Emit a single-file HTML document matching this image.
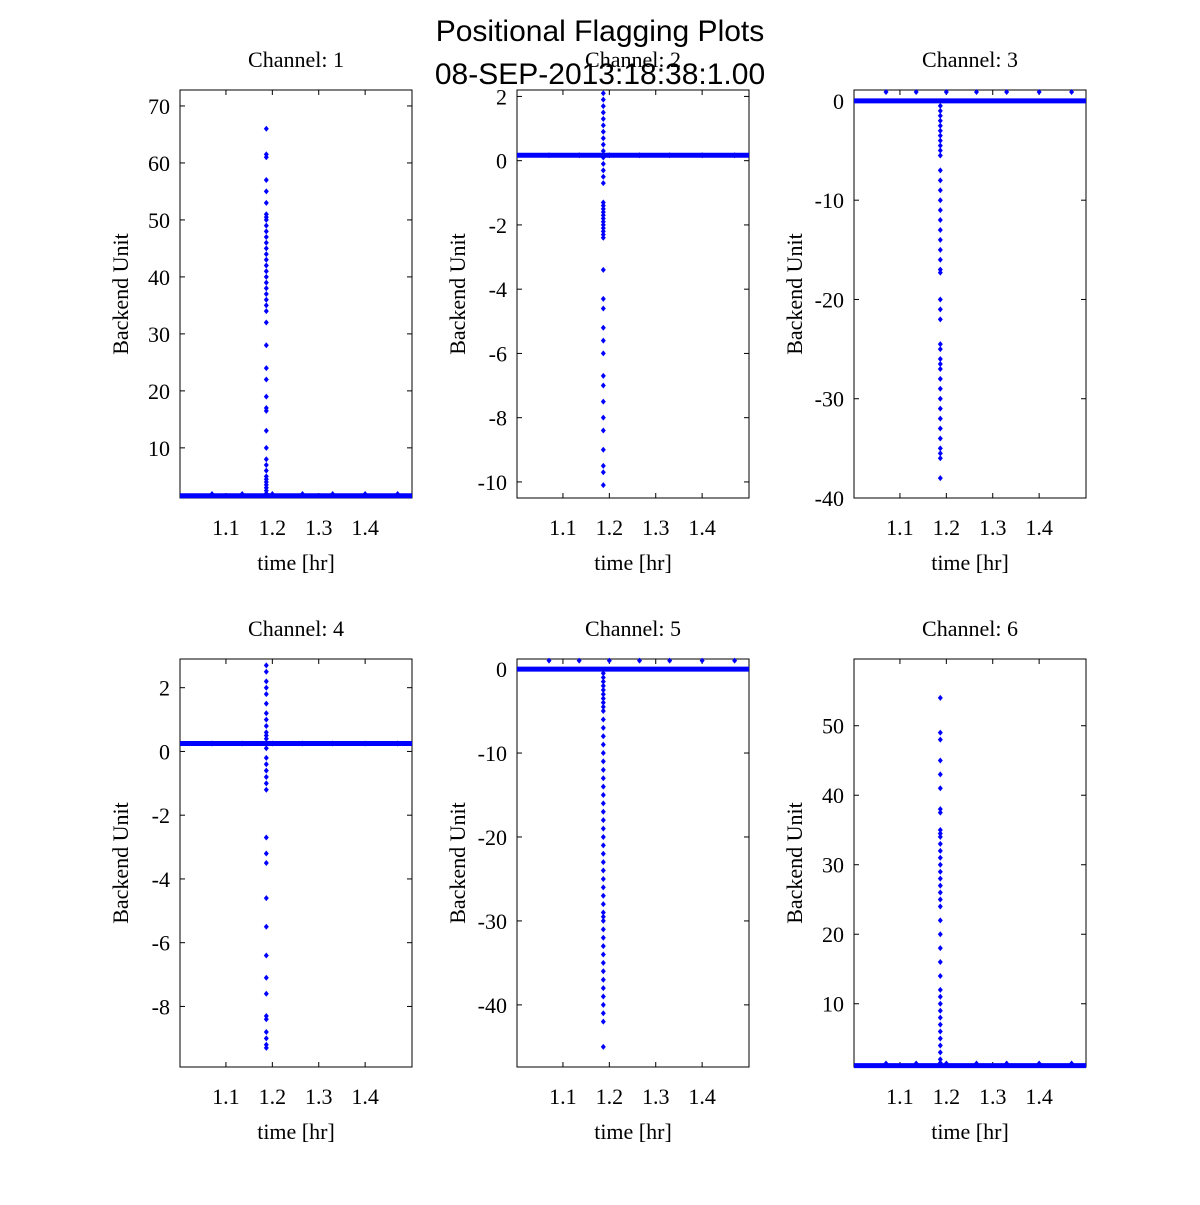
<!DOCTYPE html>
<html><head><meta charset="utf-8"><style>
body{margin:0;background:#fff;width:1200px;height:1200px;overflow:hidden}
svg text{font-family:"Liberation Serif",serif;font-size:22px;fill:#000}
</style></head><body>
<svg id="fig" width="1200" height="1200" xmlns="http://www.w3.org/2000/svg">
<text x="600" y="41" text-anchor="middle" style="font-family:'Liberation Sans',sans-serif;font-size:30px">Positional Flagging Plots</text>
<text x="600" y="84" text-anchor="middle" style="font-family:'Liberation Sans',sans-serif;font-size:30px">08-SEP-2013:18:38:1.00</text>
</svg>
<script>
const xTicks=[1.1,1.2,1.3,1.4];
const xRange=[1.001,1.501];
const spikeTime=1.187;
const markTimes=[1.07,1.135,1.2,1.265,1.33,1.4,1.47];
const ch1Spike=[66,61.5,61,57,55,53,51,50.5,50,49,48,47,46,45,44,43,42,41,40,39,38,37,36,35,34,32,28,24,22,19,17,16.5,13,10,8,7,6,5,4.5,4,3.5,3,2.5,2];
const ch2Spike=[2.1,1.9,1.7,1.5,1.3,1.1,0.9,0.7,0.5,0.3,0.1,-0.1,-0.3,-0.5,-0.7,-1.3,-1.4,-1.5,-1.6,-1.7,-1.8,-1.9,-2.0,-2.1,-2.2,-2.3,-2.4,-3.4,-4.3,-4.6,-5.2,-5.6,-6.0,-6.7,-7.0,-7.5,-8.0,-8.4,-9.0,-9.5,-9.7,-10.1];
const ch3Spike=[-0.5,-1,-1.5,-2,-2.5,-3,-3.5,-4,-4.5,-5,-5.5,-7,-8,-9,-10,-11,-12,-13,-14,-15,-16,-17,-17.3,-20,-21,-22,-24.5,-25,-26,-26.5,-27,-28,-29,-30,-31,-32,-33,-34,-35,-35.5,-36,-38];
const ch4Spike=[2.7,2.5,2.2,2.0,1.8,1.5,1.2,1.0,0.8,0.6,0.5,0.4,0.1,-0.2,-0.4,-0.6,-0.8,-1,-1.2,-2.7,-3.2,-3.5,-4.6,-5.5,-6.4,-7.1,-7.6,-8.3,-8.4,-8.8,-9,-9.2,-9.3];
const ch5Spike=[-0.5,-1,-1.5,-2,-2.5,-3,-3.5,-4,-4.5,-5,-6,-7,-8,-9,-10,-11,-12,-13,-14,-15,-16,-17,-18,-19,-20,-21,-22,-23,-24,-25,-26,-27,-28,-29,-29.5,-30,-31,-32,-33,-34,-35,-36,-37,-38,-39,-40,-41,-42,-45];
const ch6Spike=[54,49,48,45,43,41,38,37.5,35,34.5,34,33,32,31,30,29,28,27,26,25,24,22,20,18,16,14,12,11,10,9,8,7,6,5,4,3,2,1.5];
const baselines=[1.6,0.17,0,0.25,0,1.1];
const markVals=[1.9,0.17,0.9,0.25,1.0,1.4];
const yRanges=[[1.2,72.8],[-10.5,2.2],[-40,1.1],[-9.9,2.9],[-47.4,1.2],[0.9,59.6]];
const yTicks=[[10,20,30,40,50,60,70],[-10,-8,-6,-4,-2,0,2],[-40,-30,-20,-10,0],[-8,-6,-4,-2,0,2],[-40,-30,-20,-10,0],[10,20,30,40,50]];
const spikes=[ch1Spike,ch2Spike,ch3Spike,ch4Spike,ch5Spike,ch6Spike];
const NS='http://www.w3.org/2000/svg';
const svg=document.getElementById('fig');
function mk(t,a,p){const e=document.createElementNS(NS,t);for(const k in a)e.setAttribute(k,a[k]);(p||svg).appendChild(e);return e;}
const lefts=[180,517,854],tops=[90,659],W=232,H=408;
for(let i=0;i<6;i++){
  const L=lefts[i%3],T=tops[Math.floor(i/3)];
  const g=mk('g',{});
  
  
  const xs=v=>L+(v-xRange[0])/(xRange[1]-xRange[0])*W;
  const ys=v=>T+H-(v-yRanges[i][0])/(yRanges[i][1]-yRanges[i][0])*H;
  const box=mk('rect',{x:L,y:T,width:W,height:H,fill:'#fff',stroke:'#000','stroke-width':1},g);
  
  
  xTicks.forEach(t=>{const x=xs(t);
    mk('line',{x1:x,x2:x,y1:T+H,y2:T+H-5,stroke:'#000'},g);
    mk('line',{x1:x,x2:x,y1:T,y2:T+5,stroke:'#000'},g);
    const tx=mk('text',{x:x,y:T+H+37,'text-anchor':'middle'},g);tx.textContent=t.toFixed(1);
    
    });
  yTicks[i].forEach(t=>{const y=ys(t);
    mk('line',{x1:L,x2:L+5,y1:y,y2:y,stroke:'#000'},g);
    mk('line',{x1:L+W,x2:L+W-5,y1:y,y2:y,stroke:'#000'},g);
    const tx=mk('text',{x:L-10,y:y+8,'text-anchor':'end'},g);tx.textContent=t;
    
    });
  const bl=mk('line',{x1:xs(xRange[0]),x2:xs(xRange[1]),y1:ys(baselines[i]),y2:ys(baselines[i]),stroke:'#0000ff','stroke-width':5},g);
  
  
  const pts=spikes[i].map(v=>[spikeTime,v]).concat(markTimes.map(t=>[t,markVals[i]]));
  pts.forEach(p=>{const x=xs(p[0]),y=ys(p[1]);
    const d=mk('path',{d:`M${x},${y-3}L${x+2.5},${y}L${x},${y+3}L${x-2.5},${y}Z`,fill:'#0000ff'},g);
    
    });
  const tt=mk('text',{x:L+W/2,y:T-23,'text-anchor':'middle'},g);tt.textContent='Channel: '+(i+1);
  
  
  const xl=mk('text',{x:L+W/2,y:T+H+72,'text-anchor':'middle'},g);xl.textContent='time [hr]';
  
  
  const yl=mk('text',{x:0,y:0,'text-anchor':'middle',transform:`translate(${L-52},${T+H/2}) rotate(-90)`},g);yl.textContent='Backend Unit';
  
  
}
svg.appendChild(svg.children[0]);svg.appendChild(svg.children[0]);
</script>
</body></html>
